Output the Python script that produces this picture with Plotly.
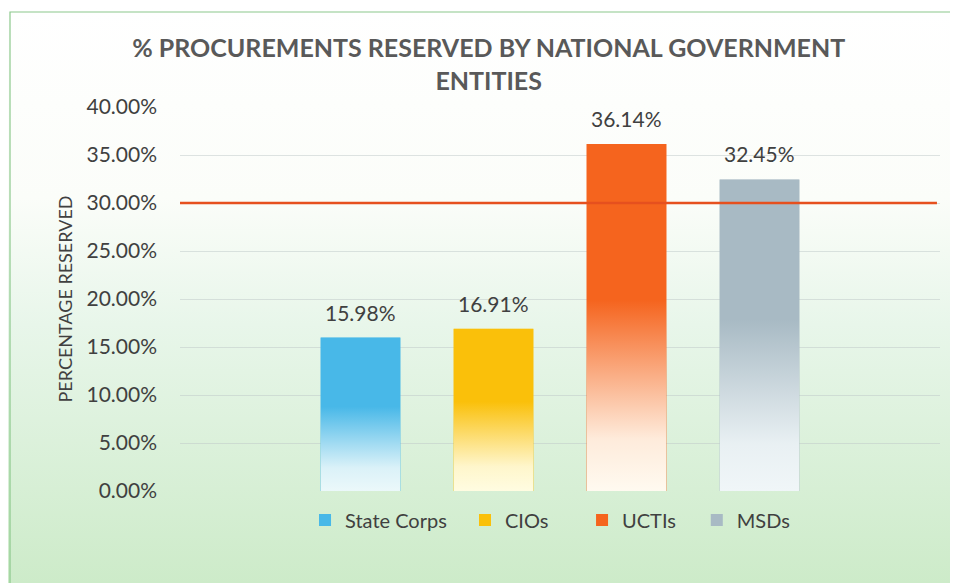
import base64
import plotly.graph_objects as go

# ---- data ----
series_names = ["State Corps", "CIOs", "UCTIs", "MSDs"]
values = [0.1598, 0.1691, 0.3614, 0.3245]
threshold = 0.30
y_ticks = [0.0, 0.05, 0.10, 0.15, 0.20, 0.25, 0.30, 0.35, 0.40]

# ---- style ----
top_colors = ["rgb(72,184,232)", "rgb(250,192,10)", "rgb(245,100,30)", "rgb(168,186,196)"]
fade_colors = ["rgb(235,248,250)", "rgb(255,252,225)", "rgb(255,250,240)", "rgb(240,246,248)"]
legend_x = [0.1645, 0.375, 0.529, 0.680]   # paper x of each legend box
BARGAP = 0.30
BARGROUPGAP = 0.40
W, H = 950, 575
ML, MR, MT, MB = 172, 18, 99, 92
PW, PH = W - ML - MR, H - MT - MB
TXT = "#404040"
FONT = "Lato"


def svg_uri(svg):
    return "data:image/svg+xml;base64," + base64.b64encode(svg.encode()).decode()


def bar_grad(top, bottom):
    svg = ('<svg xmlns="http://www.w3.org/2000/svg" width="10" height="100" preserveAspectRatio="none">'
           '<defs><linearGradient id="g" x1="0" y1="0" x2="0" y2="1">'
           f'<stop offset="0" stop-color="{top}"/>'
           f'<stop offset="0.45" stop-color="{top}" stop-opacity="0.92"/>'
           f'<stop offset="0.85" stop-color="{bottom}" stop-opacity="0.9"/>'
           f'<stop offset="1" stop-color="{bottom}"/>'
           '</linearGradient></defs><rect width="10" height="100" fill="url(#g)"/></svg>')
    return svg_uri(svg)


bg_svg = ('<svg xmlns="http://www.w3.org/2000/svg" width="100" height="100" preserveAspectRatio="none">'
          '<defs><linearGradient id="b" x1="0" y1="0" x2="0" y2="1">'
          '<stop offset="0" stop-color="#ffffff"/>'
          '<stop offset="0.33" stop-color="#fbfdf9"/>'
          '<stop offset="0.55" stop-color="#e8f6ea"/>'
          '<stop offset="1" stop-color="#cdebc9"/>'
          '</linearGradient></defs><rect width="100" height="100" fill="url(#b)"/></svg>')

fig = go.Figure()
n = len(values)
slot = (1 - BARGAP) / n
bw = slot * (1 - BARGROUPGAP)
centers = [-(1 - BARGAP) / 2 + slot * (i + 0.5) for i in range(n)]

for i, (name, v, c) in enumerate(zip(series_names, values, top_colors)):
    lg = "legend" if i == 0 else f"legend{i + 1}"
    fig.add_trace(go.Bar(
        x=[0], y=[v], name=name, legend=lg,
        marker=dict(color=c, line=dict(width=0)),
    ))

images = [dict(source=svg_uri(bg_svg), xref="paper", yref="paper",
               x=-ML / PW, y=1 + MT / PH, sizex=W / PW, sizey=H / PH,
               xanchor="left", yanchor="top", sizing="stretch", layer="below")]

# gradient overlay on each bar, placed from the same group geometry as the bars
for i, (v, c, f) in enumerate(zip(values, top_colors, fade_colors)):
    images.append(dict(source=bar_grad(c, f), xref="x", yref="y",
                       x=centers[i] - bw / 2, y=v, sizex=bw, sizey=v,
                       xanchor="left", yanchor="top", sizing="stretch", layer="above"))

annotations = []
for i, v in enumerate(values):
    annotations.append(dict(x=centers[i], y=v, xref="x", yref="y", text=f"{v * 100:.2f}%",
                            showarrow=False, yanchor="bottom", yshift=11,
                            font=dict(family=FONT, size=21, color=TXT)))

fig.add_shape(type="line", xref="paper", yref="y", x0=0, x1=0.996, y0=threshold, y1=threshold,
              line=dict(color="rgb(230,80,30)", width=2.5), layer="above")
# outer frame
fig.add_shape(type="rect", xref="paper", yref="paper",
              x0=(2 - ML) / PW, x1=(W + 5 - ML) / PW,
              y0=-(MB + 5) / PH, y1=1 + (MT - 4) / PH,
              line=dict(color="rgb(140,200,140)", width=1.2), fillcolor="rgba(0,0,0,0)", layer="below")

legend_common = dict(orientation="h", xref="paper", yref="paper", y=-0.0755, yanchor="middle",
                     xanchor="left", font=dict(family=FONT, size=20, color=TXT),
                     itemwidth=30, bgcolor="rgba(0,0,0,0)")
legends = {}
for i in range(n):
    key = "legend" if i == 0 else f"legend{i + 1}"
    legends[key] = dict(legend_common, x=legend_x[i])

fig.update_layout(
    width=W, height=H,
    margin=dict(l=ML, r=MR, t=MT, b=MB),
    paper_bgcolor="white", plot_bgcolor="rgba(0,0,0,0)",
    images=images, annotations=annotations,
    barmode="group", bargap=BARGAP, bargroupgap=BARGROUPGAP,
    title=dict(text="<b>% PROCUREMENTS RESERVED BY NATIONAL GOVERNMENT<br>ENTITIES</b>",
               x=0.506, xref="container", xanchor="center",
               y=1 - 49 / H, yref="container", yanchor="top",
               font=dict(family=FONT, size=25, color="#595959")),
    font=dict(family=FONT, color=TXT),
    showlegend=True,
    xaxis=dict(range=[-0.5, 0.5], showticklabels=False, showgrid=False, zeroline=False,
               showline=False, ticks=""),
    yaxis=dict(range=[0, 0.40], tickvals=y_ticks, tickformat=".2%",
               tickfont=dict(family=FONT, size=21, color=TXT),
               showgrid=True, gridcolor="rgba(190,200,200,0.5)", gridwidth=1,
               zeroline=False, showline=False, ticks="", ticklabelstandoff=22,
               title=dict(text="PERCENTAGE RESERVED", standoff=9,
                          font=dict(family=FONT, size=18, color=TXT))),
    **legends,
)

fig.write_html("out.html")
